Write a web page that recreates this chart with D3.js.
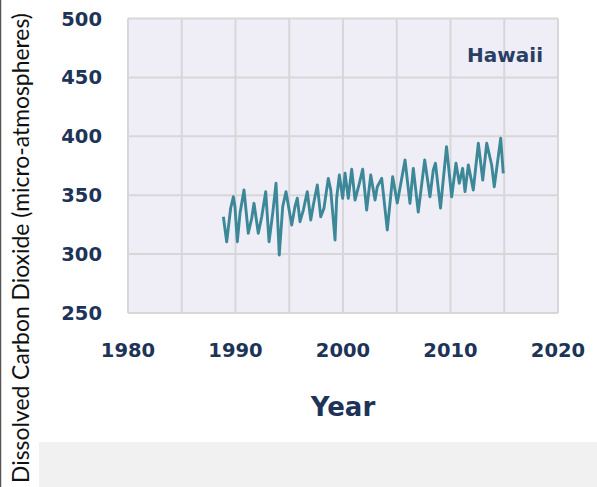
<!DOCTYPE html>
<html>
<head>
  <script src="https://d3js.org/d3.v7.min.js"></script>
  <style>
    body { margin: 0; background: #fff; }
    .tick-label { font-family: 'DejaVu Sans', sans-serif; font-weight: bold; font-size: 19.5px; fill: #1d3458; }
  </style>
</head>
<body>
  <svg id="chart" width="597" height="487"></svg>
  <script>
    // Hawaii dissolved CO2 readings (year, micro-atmospheres)
    const years = [1988.87, 1989.18, 1989.55, 1989.80, 1989.95, 1990.17, 1990.42, 1990.79, 1991.19, 1991.51,
      1991.72, 1992.12, 1992.44, 1992.81, 1993.12, 1993.46, 1993.77, 1994.07, 1994.39, 1994.70,
      1995.23, 1995.53, 1995.75, 1996.00, 1996.31, 1996.68, 1997.00, 1997.24, 1997.61, 1997.93,
      1998.23, 1998.63, 1998.86, 1999.26, 1999.41, 1999.66, 1999.97, 2000.19, 2000.49, 2000.81,
      2001.12, 2001.52, 2001.83, 2002.20, 2002.58, 2002.98, 2003.19, 2003.60, 2004.12, 2004.62,
      2005.05, 2005.77, 2006.23, 2006.54, 2007.00, 2007.60, 2008.09, 2008.40, 2008.60, 2009.07,
      2009.63, 2010.11, 2010.51, 2010.82, 2011.13, 2011.35, 2011.66, 2012.12, 2012.59, 2013.00,
      2013.37, 2013.83, 2014.07, 2014.67, 2014.91];
    const pco2 = [331.7, 310.5, 338.9, 348.7, 340.2, 310.5, 334.6, 354.4, 317.7, 330.4,
      343.1, 317.7, 331.7, 353.0, 310.5, 334.6, 360.1, 299.2, 340.2, 353.0,
      324.7, 340.2, 347.4, 327.5, 337.4, 353.0, 328.9, 341.7, 358.7, 331.7,
      338.9, 364.3, 354.4, 312.0, 347.4, 367.1, 347.4, 368.6, 347.4, 372.0,
      345.9, 360.1, 372.0, 337.4, 367.1, 345.9, 357.2, 364.3, 320.5, 365.7,
      343.4, 379.9, 343.1, 372.8, 335.7, 379.9, 348.7, 371.4, 377.1, 339.1,
      391.2, 348.7, 377.1, 360.1, 372.8, 353.0, 375.6, 354.4, 394.1, 362.9,
      394.1, 375.6, 357.2, 398.3, 368.6];
    const xTicks = [1980, 1990, 2000, 2010, 2020];
    const yTicks = [250, 300, 350, 400, 450, 500];
    const xGrid = d3.range(1980, 2021, 5);

    const svg = d3.select("#chart");
    const W = 597, H = 487;

    const x = d3.scaleLinear().domain([1980, 2020]).range([128, 558]);
    const y = d3.scaleLinear().domain([250, 500]).range([313, 18.5]);

    // page frame
    svg.append("rect").attr("width", W).attr("height", H).attr("fill", "#fff");
    svg.append("rect").attr("x", 39).attr("y", 442).attr("width", W - 39).attr("height", H - 442)
      .attr("fill", "#f1f1f1");
    svg.append("line").attr("x1", 0.5).attr("x2", 0.5).attr("y1", 0).attr("y2", H)
      .attr("stroke", "#555").attr("stroke-width", 1.5);

    // plot area
    svg.append("rect")
      .attr("x", x(1980)).attr("y", y(500))
      .attr("width", x(2020) - x(1980)).attr("height", y(250) - y(500))
      .attr("fill", "#efeef7");

    svg.selectAll(".vgrid").data(xGrid).enter().append("line")
      .attr("x1", d => x(d)).attr("x2", d => x(d))
      .attr("y1", y(500)).attr("y2", y(250))
      .attr("stroke", "#d7d7d9").attr("stroke-width", 2);

    svg.selectAll(".hgrid").data(yTicks).enter().append("line")
      .attr("x1", x(1980)).attr("x2", x(2020))
      .attr("y1", d => y(d)).attr("y2", d => y(d))
      .attr("stroke", "#d7d7d9").attr("stroke-width", 2);

    // data line
    const pts = years.map((d, i) => [d, pco2[i]]);
    svg.append("path")
      .datum(pts)
      .attr("fill", "none")
      .attr("stroke", "#3d8898")
      .attr("stroke-width", 2.9)
      .attr("stroke-linejoin", "round")
      .attr("d", d3.line().x(d => x(d[0])).y(d => y(d[1])));

    // tick labels
    svg.selectAll(".ylab").data(yTicks).enter().append("text")
      .attr("class", "tick-label")
      .attr("x", 102).attr("y", d => y(d)).attr("dy", "0.36em")
      .attr("text-anchor", "end")
      .text(d => d);

    svg.selectAll(".xlab").data(xTicks).enter().append("text")
      .attr("class", "tick-label")
      .attr("x", d => x(d)).attr("y", 357)
      .attr("text-anchor", "middle")
      .text(d => d);

    svg.append("text")
      .attr("x", 343).attr("y", 416)
      .attr("text-anchor", "middle")
      .attr("font-family", "'DejaVu Sans', sans-serif")
      .attr("font-weight", "bold").attr("font-size", 26)
      .attr("fill", "#1d3458")
      .text("Year");

    svg.append("text")
      .attr("x", 543).attr("y", 62)
      .attr("text-anchor", "end")
      .attr("font-family", "'DejaVu Sans', sans-serif")
      .attr("font-weight", "bold").attr("font-size", 20)
      .attr("fill", "#2a3d63")
      .text("Hawaii");

    // rotated axis title, sized to span the page height
    const ttl = svg.append("text")
      .attr("transform", "translate(29,248) rotate(-90)")
      .attr("text-anchor", "middle")
      .attr("font-family", "Lato, sans-serif")
      .attr("font-size", 22)
      .attr("fill", "#111")
      .text("Dissolved Carbon Dioxide (micro-atmospheres)");
    const len = ttl.node().getComputedTextLength();
    ttl.attr("font-size", 22 * 470 / len);
  </script>
</body>
</html>
